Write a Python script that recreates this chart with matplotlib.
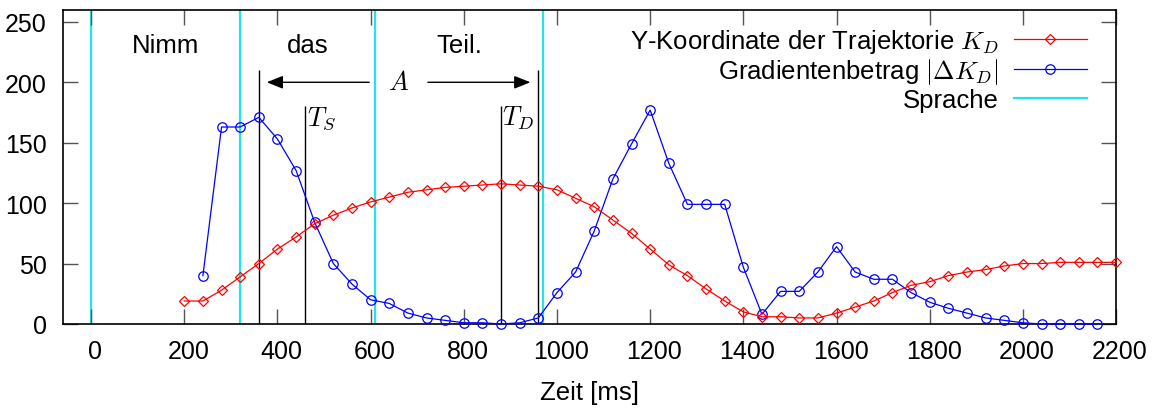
import numpy as np
import matplotlib
matplotlib.use('Agg')
import matplotlib.pyplot as plt
import matplotlib.transforms as mtransforms

# ------------------------------------------------------------------
# Data
# ------------------------------------------------------------------
# Y coordinate of the trajectory K_D, sampled every 40 ms from 200 to 2200 ms
kd_time = np.arange(200, 2201, 40)
kd_values = [19, 19, 28, 39, 50, 62, 72, 83, 90, 96,
             101, 105, 109, 111, 113, 114, 115, 116, 115, 114,
             111, 104, 97, 86, 75, 62, 49, 40, 29, 19,
             10, 6, 6, 5, 5, 9, 14, 19, 26, 32,
             35, 40, 43, 45, 48, 50, 50, 51, 51, 51,
             51]

# gradient magnitude |dK_D|, every 40 ms from 240 to 2160 ms
grad_time = np.arange(240, 2161, 40)
grad_values = [40, 163, 163, 171, 153, 127, 84, 50, 33, 20,
               17, 9, 5, 3, 1, 1, 0, 1, 5, 26,
               43, 77, 120, 149, 177, 133, 99, 99, 99, 47,
               8, 27, 27, 43, 64, 43, 37, 37, 26, 18,
               13, 9, 5, 3, 1, 0, 0, 0, 0]

# word boundaries of the speech signal (ms) and the words in between
speech_bounds = [0, 320, 610, 970]
speech_words = ['Nimm', 'das', 'Teil.']

# markers for the interval A and the times T_S, T_D
a_start, a_end = 360, 960
t_s, t_d = 460, 880

# ------------------------------------------------------------------
# Style
# ------------------------------------------------------------------
plt.rcParams['font.family'] = ['Liberation Sans', 'DejaVu Sans']
plt.rcParams['mathtext.fontset'] = 'cm'
plt.rcParams['font.size'] = 18

fig = plt.figure(figsize=(11.52, 4.14), dpi=100)
ax = fig.add_axes([0.0544, 0.215, 0.9144, 0.759])

# speech boundaries
for i, b in enumerate(speech_bounds):
    ax.axvline(b, color='#22e5e5', lw=1.6, zorder=1,
               label='Sprache' if i == 0 else None)
for i, w in enumerate(speech_words):
    mid = (speech_bounds[i] + speech_bounds[i + 1]) / 2
    ax.text(mid, 231, w, ha='center', va='center', fontsize=18.5)

# vertical markers
ax.vlines([a_start, a_end], 0, 210, color='black', lw=1.0, zorder=2)
ax.vlines([t_s, t_d], 0, 180, color='black', lw=1.0, zorder=2)
ax.text(t_s + 3, 171, '$T_S$', ha='left', va='center', fontsize=19)
ax.text(t_d + 3, 171, '$T_D$', ha='left', va='center', fontsize=19)

# interval arrow A (two halves with the label in between)
a_mid = (a_start + a_end) / 2
arrow_kw = dict(arrowstyle='-|>,head_length=0.55,head_width=0.22', color='black', lw=1.0)
ax.annotate('', xy=(a_start + 11, 200), xytext=(a_mid - 57, 200), arrowprops=arrow_kw)
ax.annotate('', xy=(a_end - 11, 200), xytext=(a_mid + 57, 200), arrowprops=arrow_kw)
ax.text(a_mid, 200, '$A$', ha='center', va='center', fontsize=19)

# the two series
ax.plot(kd_time, kd_values, color='#ff0000', lw=0.9, marker='D', ms=5.2,
        mfc='none', mew=0.9, zorder=4, clip_on=False,
        label='Y-Koordinate der Trajektorie $K_D$')
ax.plot(grad_time, grad_values, color='#0000ff', lw=0.9, marker='o', ms=6.8,
        mfc='none', mew=0.9, zorder=3, clip_on=False,
        label=r'Gradientenbetrag $|\Delta K_D|$')

# axes, ticks
ax.set_xlim(-61, 2200)
ax.set_ylim(0, 260)
ax.set_xticks(np.arange(0, 2201, 200))
ax.set_yticks(np.arange(0, 251, 50))
ax.tick_params(direction='in', length=11, width=1.0, color='#555555',
               top=True, right=True, labelsize=18)
ax.tick_params(axis='y', pad=11.5)
ax.tick_params(axis='x', pad=11)
for s in ax.spines.values():
    s.set_linewidth(1.2)
ax.set_xlabel('Zeit [ms]', fontsize=18.5, labelpad=12)

# x tick labels sit a few pixels right of their ticks in the original
shift = mtransforms.ScaledTranslation(4 / 100, 0, fig.dpi_scale_trans)
for lab in ax.get_xticklabels():
    lab.set_transform(lab.get_transform() + shift)

# legend: red, blue, cyan, text on the left of the sample line
h, l = ax.get_legend_handles_labels()
order = [l.index('Y-Koordinate der Trajektorie $K_D$'),
         l.index(r'Gradientenbetrag $|\Delta K_D|$'),
         l.index('Sprache')]
ax.legend([h[i] for i in order], [l[i] for i in order],
          loc='upper right', bbox_to_anchor=(0.9725, 0.945), frameon=False,
          markerfirst=False, handlelength=2.85, handletextpad=0.6,
          labelspacing=0.05, borderpad=0, borderaxespad=0, fontsize=18.5,
          numpoints=1)

fig.savefig('out.png', dpi=100)
